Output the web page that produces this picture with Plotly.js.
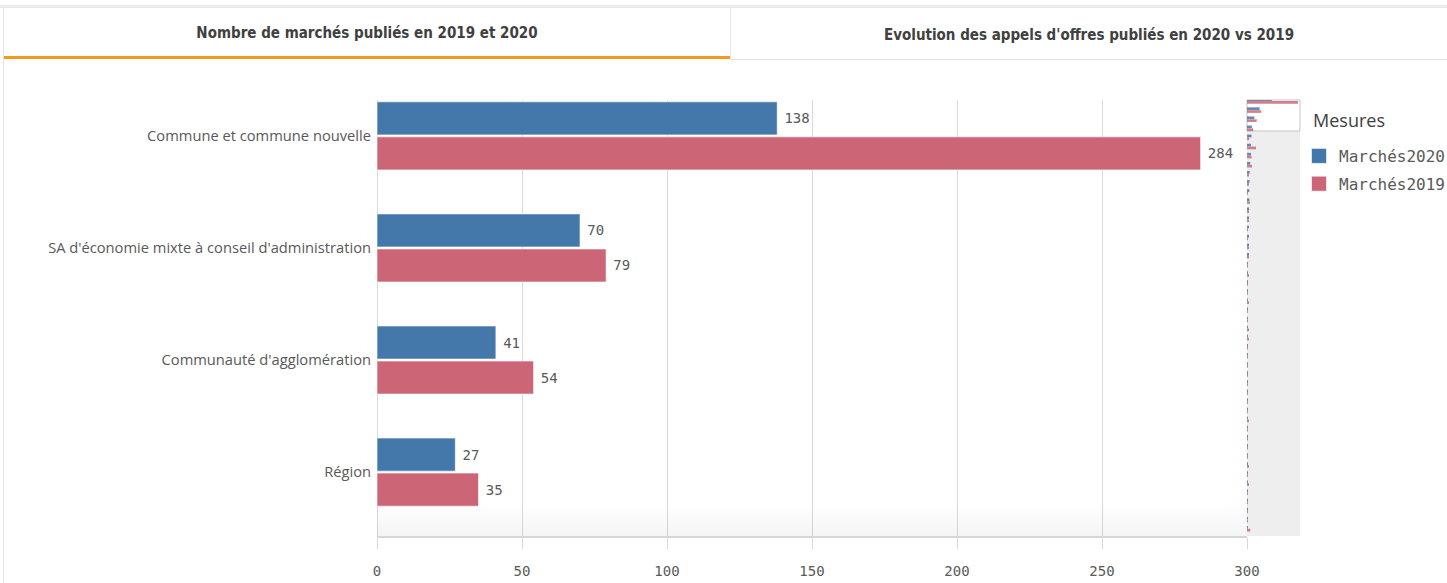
<!DOCTYPE html>
<html>
<head>
<meta charset="utf-8">
<script src="https://cdn.plot.ly/plotly-3.0.1.min.js"></script>
<style>
  html, body { margin:0; padding:0; background:#fff; width:1447px; height:583px; overflow:hidden; }
  #chart { position:absolute; left:0; top:0; width:1447px; height:583px; }
  .topband { position:absolute; left:0; top:5px; width:1447px; height:3px; background:#ebebeb; }
  .leftline { position:absolute; left:3px; top:8px; width:1px; height:575px; background:#e3e3e3; }
  .tab { position:absolute; top:8px; height:50px; display:flex; align-items:center; justify-content:center;
         font-family:"Liberation Sans Narrow","DejaVu Sans Condensed","Liberation Sans",sans-serif; font-weight:bold;
         font-size:15px; color:#404040; box-sizing:border-box; padding-top:2px; }
  #tab1 { left:4px; width:726px; border-bottom:3px solid #f39a1e; height:51px; }
  #tab2 { left:730px; width:717px; border-left:1px solid #e6e6e6; border-bottom:1px solid #e0e0e0; height:52px; }
  .fade { position:absolute; left:377px; top:503px; width:870px; height:33px; pointer-events:none;
          background:linear-gradient(to bottom, rgba(0,0,0,0), rgba(0,0,0,0.045)); }
</style>
</head>
<body>
<div class="topband"></div>
<div class="leftline"></div>
<div class="tab" id="tab1">Nombre de marchés publiés en 2019 et 2020</div>
<div class="tab" id="tab2">Evolution des appels d'offres publiés en 2020 vs 2019</div>
<div id="chart"></div>
<div class="fade"></div>
<script>
// ---- data ----
const categories = [
  'Commune et commune nouvelle',
  "SA d'économie mixte à conseil d'administration",
  "Communauté d'agglomération",
  'Région'
];
const marches2020 = [138, 70, 41, 27];
const marches2019 = [284, 79, 54, 35];
const xTicks = [0, 50, 100, 150, 200, 250, 300];

// scrollbar overview (all categories, estimated)
const miniMarches2020 = [138,70,41,27,25,22,22,18,15,14,13,13,10,9,8,7,6,6,5,5,5,5,5,4,4,4,4,4,4,4,3,3,3,3,3,3,3,3,3,3,2,2,2,2,2,2,2,2];
const miniMarches2019 = [284,79,54,35,12,50,25,28,10,8,3,16,9,8,5,4,10,10,3,10,2,3,9,2,3,10,10,2,2,2,2,2,2,2,3,10,2,2,2,2,10,2,10,2,2,2,2,18];
const miniRank = miniMarches2020.map((v, i) => i);

const BLUE = '#4477aa', RED = '#cc6677';
const monoFont = 'DejaVu Sans Mono, Liberation Mono, monospace';
const pad = '<span style="font-size:7px">\u00a0</span>';

const traces = [
  { type:'bar', orientation:'h', name:'Marchés2020', y:categories, x:marches2020,
    marker:{color:BLUE, line:{color:'rgba(255,255,255,0.6)', width:1}},
    text:marches2020.map(v => pad + v), textposition:'outside', cliponaxis:false,
    textfont:{family:monoFont, size:14, color:'#595959'}, legendgroup:'a', hoverinfo:'x' },
  { type:'bar', orientation:'h', name:'Marchés2019', y:categories, x:marches2019,
    marker:{color:RED, line:{color:'rgba(255,255,255,0.6)', width:1}},
    text:marches2019.map(v => pad + v), textposition:'outside', cliponaxis:false,
    textfont:{family:monoFont, size:14, color:'#595959'}, legendgroup:'b', hoverinfo:'x' },
  { type:'bar', orientation:'h', y:miniRank, x:miniMarches2020, xaxis:'x2', yaxis:'y2',
    marker:{color:BLUE, opacity:0.85}, showlegend:false, hoverinfo:'skip' },
  { type:'bar', orientation:'h', y:miniRank, x:miniMarches2019, xaxis:'x2', yaxis:'y2',
    marker:{color:RED, opacity:0.85}, showlegend:false, hoverinfo:'skip' }
];

const mainFrac = 870 / 923;
const layout = {
  width:1447, height:583,
  margin:{l:377, r:147, t:100, b:47, autoexpand:false},
  paper_bgcolor:'rgba(0,0,0,0)', plot_bgcolor:'rgba(0,0,0,0)',
  barmode:'group', bargap:0.375, bargroupgap:0.056,
  xaxis:{ domain:[0, mainFrac], range:[0,300], tickvals:xTicks, ticktext:xTicks.map(String),
    showgrid:true, gridcolor:'#d9d9d9', gridwidth:1, zeroline:true, zerolinecolor:'#d9d9d9', zerolinewidth:1,
    ticks:'outside', ticklen:11, tickcolor:'#d9d9d9', showline:true, linecolor:'#d6d6d6', linewidth:2,
    tickfont:{family:monoFont, size:14, color:'#595959'}, ticklabelstandoff:10, fixedrange:true, automargin:false },
  yaxis:{ type:'category', categoryarray:categories, range:[3.57,-0.32], showgrid:false, zeroline:false,
    ticks:'', showline:false, tickfont:{family:'Open Sans, Lato, sans-serif', size:14.7, color:'#595959'},
    ticklabelstandoff:5, fixedrange:true, automargin:false },
  xaxis2:{ domain:[mainFrac, 1], anchor:'y2', range:[0,295], visible:false, fixedrange:true },
  yaxis2:{ anchor:'x2', range:[47.8,-0.11], visible:false, fixedrange:true },
  shapes:[
    { type:'rect', xref:'x2 domain', yref:'y2 domain', x0:0, x1:1, y0:0, y1:1,
      fillcolor:'#eeeeee', line:{width:0}, layer:'below' },
    { type:'rect', xref:'x2 domain', yref:'paper', x0:0, x1:1, y0:(536-131)/436, y1:1,
      fillcolor:'#ffffff', line:{color:'#c4c4c4', width:1}, layer:'below' }
  ],
  showlegend:true,
  legend:{ x:(1299-377)/923, xanchor:'left', y:(536-139)/436, yanchor:'top',
    font:{family:monoFont, size:16, color:'#595959'}, traceorder:'grouped', tracegroupgap:4,
    bgcolor:'rgba(0,0,0,0)', itemclick:false, itemdoubleclick:false },
  annotations:[
    { text:'Mesures', xref:'paper', yref:'paper', x:(1311-377)/923, y:(536-120)/436,
      xanchor:'left', yanchor:'middle', showarrow:false,
      font:{family:'Open Sans, Lato, sans-serif', size:18, color:'#404040'} }
  ],
  font:{family:'Open Sans, sans-serif', color:'#595959'}
};

Plotly.newPlot('chart', traces, layout, {displayModeBar:false, responsive:false}).then(gd => {
  // enlarge legend swatches to match the reference squares
  gd.querySelectorAll('.legend .legendpoints path').forEach(p => {
    p.setAttribute('d', 'M7.5,7.5H-7.5V-7.5H7.5Z');
  });
});
</script>
</body>
</html>
